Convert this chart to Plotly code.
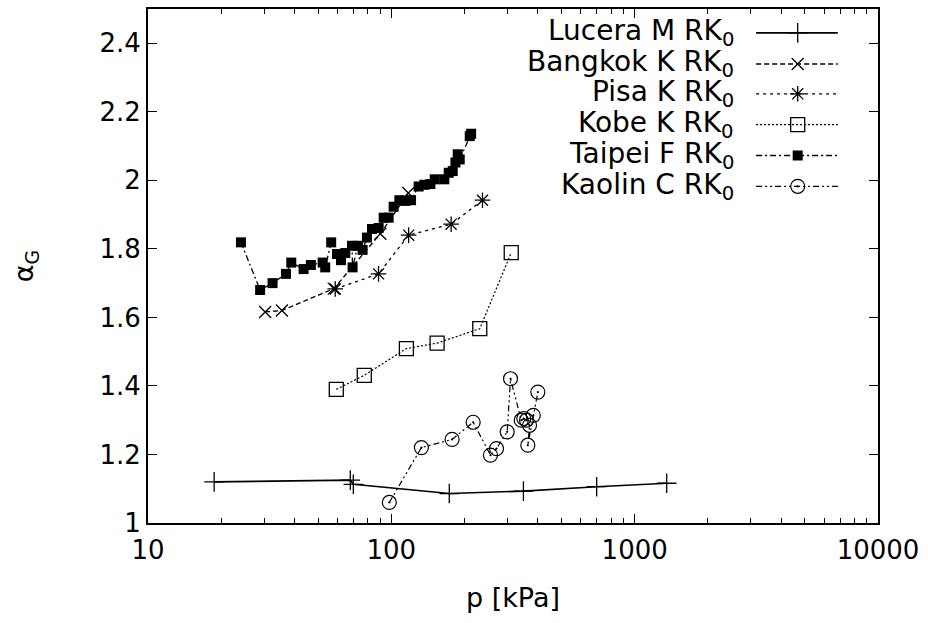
import plotly.graph_objects as go

# ---- data ----
lucera_p = [18.7, 67.8, 69.8, 173, 349, 698, 1354]
lucera_a = [1.120, 1.125, 1.113, 1.086, 1.093, 1.106, 1.116]

bangkok_p = [30.3, 35.5, 58.0, 90.1, 117.5]
bangkok_a = [1.616, 1.620, 1.684, 1.844, 1.963]

pisa_p = [58.8, 88.6, 117.8, 176.1, 236.9]
pisa_a = [1.683, 1.727, 1.840, 1.872, 1.942]

kobe_p = [59.4, 77.4, 115.3, 154.2, 230.9, 311]
kobe_a = [1.390, 1.431, 1.509, 1.525, 1.567, 1.789]

taipei_p = [24.1, 28.9, 32.5, 36.9, 38.8, 43.6, 46.7, 52.2, 53.5, 56.6, 59.8, 62.1,
            64.7, 68.9, 69.3, 72.9, 76.2, 79.4, 83.3, 88.7, 93.0, 97.5, 102.2, 107.9,
            114.2, 120.5, 129.5, 136.7, 144.7, 150.8, 165.2, 172.1, 178.8, 183.4,
            187.4, 191.0, 210.0, 212.8]
taipei_a = [1.819, 1.680, 1.700, 1.727, 1.760, 1.741, 1.753, 1.760, 1.746, 1.819, 1.785, 1.767,
            1.788, 1.809, 1.746, 1.809, 1.797, 1.833, 1.858, 1.861, 1.891, 1.891, 1.923, 1.942,
            1.940, 1.942, 1.982, 1.987, 1.989, 2.003, 2.003, 2.022, 2.027, 2.052,
            2.076, 2.061, 2.129, 2.136]

kaolin_p = [98.1, 132.9, 177.7, 216.9, 255.5, 270.5, 299.3, 308.9, 341.8, 350.3, 359.4,
            369.8, 363.9, 383.0, 400.1]
kaolin_a = [1.060, 1.220, 1.244, 1.294, 1.198, 1.217, 1.266, 1.421, 1.300, 1.305, 1.300,
            1.285, 1.227, 1.314, 1.382]

x_ticks = [10, 100, 1000, 10000]
x_tick_text = ["10", "100", "1000", "10000"]
x_minor_ticks = [m * d for d in (10, 100, 1000) for m in range(2, 10)]
y_ticks = [1, 1.2, 1.4, 1.6, 1.8, 2, 2.2, 2.4]
y_tick_text = ["1", "1.2", "1.4", "1.6", "1.8", "2", "2.2", "2.4"]

names = ["Lucera M RK<sub>0</sub>", "Bangkok K RK<sub>0</sub>", "Pisa K RK<sub>0</sub>",
         "Kobe K RK<sub>0</sub>", "Taipei F RK<sub>0</sub>", "Kaolin C RK<sub>0</sub>"]

FONT = "DejaVu Sans, Liberation Sans, Arial, sans-serif"
FS_TICK = 26
FS_KEY = 28
FS_TITLE = 27

styles = [
    dict(line=dict(color="black", width=1.6, dash="solid"),
         marker=dict(symbol="cross-thin-open", size=14, color="black", line=dict(width=1.3, color="black"))),
    dict(line=dict(color="black", width=1.3, dash="5px,3px"),
         marker=dict(symbol="x-thin-open", size=12, color="black", line=dict(width=1.3, color="black"))),
    dict(line=dict(color="black", width=1.3, dash="3px,4px"),
         marker=dict(symbol="asterisk-open", size=13, color="black", line=dict(width=1.3, color="black"))),
    dict(line=dict(color="black", width=1.2, dash="2px,2px"),
         marker=dict(symbol="square-open", size=14, color="black", line=dict(width=1.3, color="black"))),
    dict(line=dict(color="black", width=1.3, dash="6px,3px,2px,3px"),
         marker=dict(symbol="square", size=10, color="black", line=dict(width=0, color="black"))),
    dict(line=dict(color="black", width=1.2, dash="6px,3px,2px,3px,2px,3px"),
         marker=dict(symbol="circle-open-dot", size=14, color="black", line=dict(width=1.2, color="black"))),
]

series = [(lucera_p, lucera_a), (bangkok_p, bangkok_a), (pisa_p, pisa_a),
          (kobe_p, kobe_a), (taipei_p, taipei_a), (kaolin_p, kaolin_a)]

fig = go.Figure()
for (px, py), nm, st in zip(series, names, styles):
    fig.add_trace(go.Scatter(x=px, y=py, mode="lines+markers", name=nm,
                             line=st["line"], marker=st["marker"], showlegend=False,
                             xaxis="x", yaxis="y"))

# gnuplot-style key: text right-aligned, sample on the right
key_y = [0.9535, 0.893, 0.835, 0.775, 0.715, 0.655]
for nm, st, ky in zip(names, styles, key_y):
    fig.add_trace(go.Scatter(x=[0.833, 0.945], y=[ky, ky], mode="lines",
                             line=st["line"], showlegend=False, hoverinfo="skip",
                             xaxis="x2", yaxis="y2"))
    fig.add_trace(go.Scatter(x=[0.890], y=[ky], mode="markers",
                             marker=st["marker"], showlegend=False, hoverinfo="skip",
                             xaxis="x2", yaxis="y2"))
    fig.add_annotation(x=0.805, y=ky, xref="paper", yref="paper", text=nm,
                       xanchor="right", yanchor="middle", showarrow=False,
                       font=dict(family=FONT, size=FS_KEY, color="black"))

axis_common = dict(showline=True, linecolor="black", linewidth=2, mirror="allticks",
                   ticks="inside", ticklen=9, tickwidth=1, tickcolor="black",
                   showgrid=False, zeroline=False,
                   tickfont=dict(family=FONT, size=FS_TICK, color="black"))

fig.update_layout(
    width=928, height=623,
    margin=dict(l=148, r=50, t=7, b=100),
    paper_bgcolor="white", plot_bgcolor="white",
    font=dict(family=FONT, color="black"),
    xaxis=dict(type="log", range=[1, 4], tickvals=x_ticks, ticktext=x_tick_text,
               ticklabelstandoff=3,
               title=dict(text="p [kPa]", font=dict(family=FONT, size=FS_TITLE), standoff=24),
               minor=dict(ticks="inside", ticklen=5, tickwidth=1, tickcolor="black",
                          showgrid=False, tickmode="array", tickvals=x_minor_ticks),
               **axis_common),
    yaxis=dict(range=[1, 2.5], tickvals=y_ticks, ticktext=y_tick_text,
               title=dict(text="α<sub>G</sub>", font=dict(family=FONT, size=FS_TITLE), standoff=58),
               **axis_common),
    xaxis2=dict(overlaying="x", range=[0, 1], visible=False),
    yaxis2=dict(overlaying="y", range=[0, 1], visible=False),
)

fig.write_html("out.html")
